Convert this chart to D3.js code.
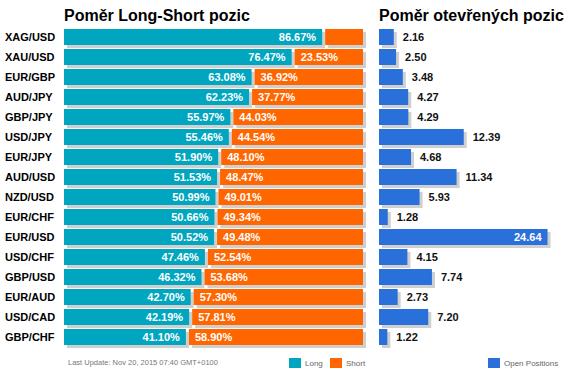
<!DOCTYPE html>
<html>
<head>
<meta charset="utf-8">
<script src="https://cdn.jsdelivr.net/npm/d3@7"></script>
<style>
  body { margin: 0; background: #fff; }
  text { font-family: "Liberation Sans", Arial, sans-serif; }
</style>
</head>
<body>
<div id="chart"></div>
<script>
var pairs = ["XAG/USD","XAU/USD","EUR/GBP","AUD/JPY","GBP/JPY","USD/JPY","EUR/JPY","AUD/USD",
             "NZD/USD","EUR/CHF","EUR/USD","USD/CHF","GBP/USD","EUR/AUD","USD/CAD","GBP/CHF"];
var longPct = [86.67,76.47,63.08,62.23,55.97,55.46,51.90,51.53,50.99,50.66,50.52,47.46,46.32,42.70,42.19,41.10];
var shortPct = [13.33,23.53,36.92,37.77,44.03,44.54,48.10,48.47,49.01,49.34,49.48,52.54,53.68,57.30,57.81,58.90];
var openPos = [2.16,2.50,3.48,4.27,4.29,12.39,4.68,11.34,5.93,1.28,24.64,4.15,7.74,2.73,7.20,1.22];

var rows = pairs.map(function(p, i) {
  return {pair: p, long: longPct[i], short: shortPct[i], open: openPos[i]};
});

var width = 570, height = 377;
var teal = "#00a6bf", orange = "#ff6600", blue = "#2a70da", shadow = "#cfcfcf";

var svg = d3.select("#chart").append("svg")
    .attr("width", width)
    .attr("height", height);

var y = d3.scaleBand()
    .domain(pairs)
    .range([27, 347])
    .paddingInner(0.2)
    .paddingOuter(0.1);

var x = d3.scaleLinear().domain([0, 100]).range([64, 363]);
var x2 = d3.scaleLinear().domain([0, 25]).range([379, 550]);

// titles
svg.append("text").attr("x", 64).attr("y", 21)
    .style("font-size", "16px").style("font-weight", "bold")
    .text("Poměr Long-Short pozic");
svg.append("text").attr("x", 379).attr("y", 21)
    .style("font-size", "16px").style("font-weight", "bold")
    .text("Poměr otevřených pozic");

// row labels
svg.selectAll(".lbl")
    .data(rows)
  .enter().append("text")
    .attr("class", "lbl")
    .attr("x", 5)
    .attr("y", function(d) { return y(d.pair) + y.bandwidth() / 2 + 4; })
    .style("font-size", "11px").style("font-weight", "bold")
    .text(function(d) { return d.pair; });

var g = svg.selectAll(".row")
    .data(rows)
  .enter().append("g")
    .attr("class", "row")
    .attr("transform", function(d) { return "translate(0," + y(d.pair) + ")"; });

var bh = y.bandwidth();

// shadows
g.append("rect")
    .attr("x", x(0) + 3).attr("y", 3)
    .attr("width", function(d) { return x(d.long) - 1 - x(0); })
    .attr("height", bh).attr("fill", shadow);
g.append("rect")
    .attr("x", function(d) { return x(d.long) + 2 + 3; }).attr("y", 3)
    .attr("width", function(d) { return x(100) - x(d.long) - 2; })
    .attr("height", bh).attr("fill", shadow);
g.append("rect")
    .attr("x", x2(0) + 3).attr("y", 3)
    .attr("width", function(d) { return x2(d.open) - x2(0); })
    .attr("height", bh).attr("fill", shadow);

// bars
g.append("rect")
    .attr("x", x(0)).attr("y", 0)
    .attr("width", function(d) { return x(d.long) - 1 - x(0); })
    .attr("height", bh).attr("fill", teal);
g.append("rect")
    .attr("x", function(d) { return x(d.long) + 2; }).attr("y", 0)
    .attr("width", function(d) { return x(100) - x(d.long) - 2; })
    .attr("height", bh).attr("fill", orange);
g.append("rect")
    .attr("x", x2(0)).attr("y", 0)
    .attr("width", function(d) { return x2(d.open) - x2(0); })
    .attr("height", bh).attr("fill", blue);

// percent labels
g.append("text")
    .attr("x", function(d) { return x(d.long) - 7; })
    .attr("y", bh / 2 + 4)
    .attr("text-anchor", "end")
    .attr("fill", "#fff")
    .style("font-size", "11px").style("font-weight", "bold")
    .text(function(d) { return d.long.toFixed(2) + "%"; });
g.filter(function(d) { return d.short > 20; }).append("text")
    .attr("x", function(d) { return x(d.long) + 8; })
    .attr("y", bh / 2 + 4)
    .attr("fill", "#fff")
    .style("font-size", "11px").style("font-weight", "bold")
    .text(function(d) { return d.short.toFixed(2) + "%"; });

// open position labels
g.append("text")
    .attr("x", function(d) { return d.open > 20 ? x2(d.open) - 6 : x2(d.open) + 9; })
    .attr("y", bh / 2 + 4)
    .attr("text-anchor", function(d) { return d.open > 20 ? "end" : "start"; })
    .attr("fill", function(d) { return d.open > 20 ? "#fff" : "#111"; })
    .style("font-size", "11px").style("font-weight", "bold")
    .text(function(d) { return d.open.toFixed(2); });

// footer
svg.append("text").attr("x", 68).attr("y", 365)
    .attr("fill", "#777").style("font-size", "7.5px")
    .text("Last Update: Nov 20, 2015 07:40 GMT+0100");

var legend = [
  {x: 289, color: teal, label: "Long"},
  {x: 330, color: orange, label: "Short"},
  {x: 488, color: blue, label: "Open Positions"}
];
var lg = svg.selectAll(".leg")
    .data(legend)
  .enter().append("g")
    .attr("class", "leg");
lg.append("rect")
    .attr("x", function(d) { return d.x; }).attr("y", 358)
    .attr("width", 12).attr("height", 10)
    .attr("fill", function(d) { return d.color; });
lg.append("text")
    .attr("x", function(d) { return d.x + 16; }).attr("y", 366)
    .attr("fill", "#666").style("font-size", "8px")
    .text(function(d) { return d.label; });
</script>
</body>
</html>
